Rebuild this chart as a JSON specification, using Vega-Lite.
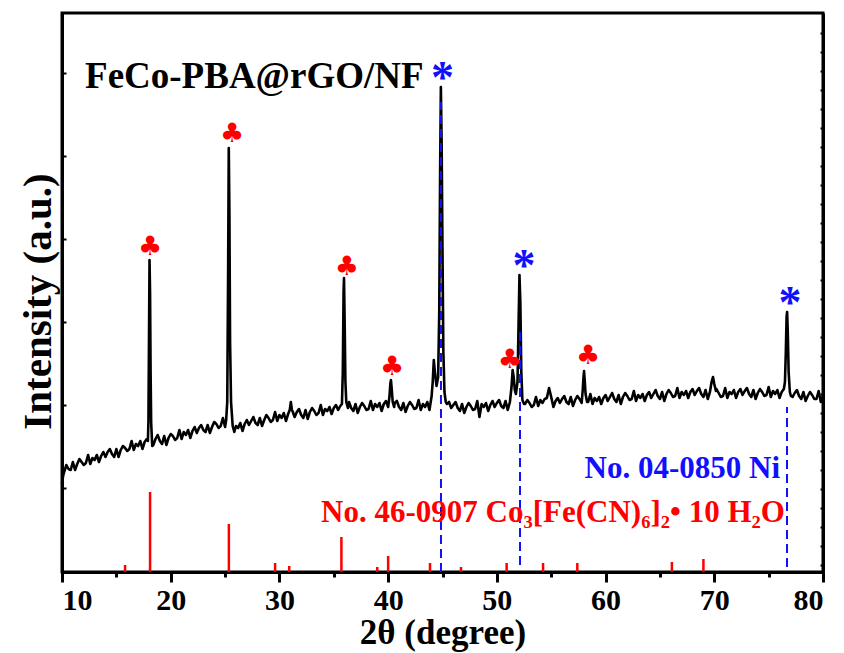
{
  "$schema": "https://vega.github.io/schema/vega-lite/v6.json",
  "width": 761,
  "height": 559,
  "autosize": {"type": "none"},
  "padding": {"left": 62, "top": 13, "right": 21, "bottom": 81},
  "background": "white",
  "config": {
    "view": {"stroke": "black", "strokeWidth": 3},
    "font": "Liberation Serif",
    "axis": {"domainColor": "black", "domainWidth": 3, "tickColor": "black", "grid": false, "labelFont": "Liberation Serif", "titleFont": "Liberation Serif", "labelFontWeight": "bold", "titleFontWeight": "bold", "labelColor": "black", "titleColor": "black"}
  },
  "datasets": {
    "pattern": [
      {"x":10.0,"y":88},{"x":10.1,"y":96},{"x":10.2,"y":100},{"x":10.4,"y":107},{"x":10.6,"y":103},{"x":10.8,"y":102},{"x":11.0,"y":110},{"x":11.2,"y":102},{"x":11.4,"y":108},{"x":11.6,"y":113},{"x":11.8,"y":110},{"x":12.0,"y":107},{"x":12.2,"y":109},{"x":12.4,"y":117},{"x":12.6,"y":108},{"x":12.8,"y":114},{"x":13.0,"y":112},{"x":13.2,"y":117},{"x":13.4,"y":110},{"x":13.6,"y":116},{"x":13.8,"y":120},{"x":14.0,"y":115},{"x":14.2,"y":120},{"x":14.4,"y":123},{"x":14.6,"y":118},{"x":14.8,"y":115},{"x":15.0,"y":123},{"x":15.2,"y":115},{"x":15.4,"y":122},{"x":15.6,"y":126},{"x":15.8,"y":124},{"x":16.0,"y":121},{"x":16.2,"y":123},{"x":16.4,"y":131},{"x":16.6,"y":122},{"x":16.8,"y":128},{"x":17.0,"y":126},{"x":17.2,"y":131},{"x":17.4,"y":123},{"x":17.6,"y":130},{"x":17.8,"y":133},{"x":17.9,"y":131},{"x":17.95,"y":150},{"x":18.0,"y":230},{"x":18.05,"y":312},{"x":18.1,"y":280},{"x":18.15,"y":200},{"x":18.2,"y":150},{"x":18.3,"y":126},{"x":18.4,"y":127},{"x":18.6,"y":133},{"x":18.8,"y":137},{"x":19.0,"y":131},{"x":19.2,"y":128},{"x":19.4,"y":136},{"x":19.6,"y":127},{"x":19.8,"y":134},{"x":20.0,"y":138},{"x":20.2,"y":136},{"x":20.4,"y":132},{"x":20.6,"y":134},{"x":20.8,"y":142},{"x":21.0,"y":133},{"x":21.2,"y":140},{"x":21.4,"y":137},{"x":21.6,"y":142},{"x":21.8,"y":134},{"x":22.0,"y":141},{"x":22.2,"y":145},{"x":22.4,"y":139},{"x":22.6,"y":144},{"x":22.8,"y":147},{"x":23.0,"y":142},{"x":23.2,"y":140},{"x":23.4,"y":147},{"x":23.6,"y":139},{"x":23.8,"y":145},{"x":24.0,"y":150},{"x":24.2,"y":148},{"x":24.4,"y":144},{"x":24.6,"y":146},{"x":24.8,"y":154},{"x":25.0,"y":145},{"x":25.1,"y":152},{"x":25.2,"y":170},{"x":25.28,"y":300},{"x":25.34,"y":424},{"x":25.4,"y":360},{"x":25.46,"y":230},{"x":25.55,"y":170},{"x":25.7,"y":146},{"x":25.85,"y":140},{"x":26.0,"y":146},{"x":26.2,"y":144},{"x":26.4,"y":149},{"x":26.6,"y":141},{"x":26.8,"y":148},{"x":27.0,"y":152},{"x":27.2,"y":147},{"x":27.4,"y":151},{"x":27.6,"y":155},{"x":27.8,"y":149},{"x":28.0,"y":147},{"x":28.2,"y":154},{"x":28.4,"y":146},{"x":28.6,"y":152},{"x":28.8,"y":157},{"x":29.0,"y":154},{"x":29.2,"y":150},{"x":29.4,"y":152},{"x":29.6,"y":160},{"x":29.8,"y":151},{"x":30.0,"y":157},{"x":30.2,"y":154},{"x":30.4,"y":159},{"x":30.6,"y":151},{"x":30.8,"y":158},{"x":30.95,"y":162},{"x":31.05,"y":170},{"x":31.15,"y":162},{"x":31.2,"y":161},{"x":31.4,"y":155},{"x":31.6,"y":160},{"x":31.8,"y":163},{"x":32.0,"y":157},{"x":32.2,"y":154},{"x":32.4,"y":162},{"x":32.6,"y":153},{"x":32.8,"y":160},{"x":33.0,"y":164},{"x":33.2,"y":161},{"x":33.4,"y":157},{"x":33.6,"y":159},{"x":33.8,"y":167},{"x":34.0,"y":157},{"x":34.2,"y":163},{"x":34.4,"y":161},{"x":34.6,"y":165},{"x":34.8,"y":158},{"x":35.0,"y":164},{"x":35.2,"y":167},{"x":35.4,"y":162},{"x":35.6,"y":166},{"x":35.75,"y":168},{"x":35.83,"y":200},{"x":35.9,"y":280},{"x":35.94,"y":294},{"x":36.0,"y":250},{"x":36.07,"y":190},{"x":36.15,"y":170},{"x":36.3,"y":164},{"x":36.4,"y":170},{"x":36.6,"y":164},{"x":36.8,"y":161},{"x":37.0,"y":168},{"x":37.2,"y":159},{"x":37.4,"y":165},{"x":37.6,"y":169},{"x":37.8,"y":166},{"x":38.0,"y":162},{"x":38.2,"y":163},{"x":38.4,"y":171},{"x":38.6,"y":162},{"x":38.8,"y":168},{"x":39.0,"y":165},{"x":39.2,"y":169},{"x":39.4,"y":161},{"x":39.6,"y":168},{"x":39.8,"y":171},{"x":40.0,"y":165},{"x":40.12,"y":175},{"x":40.2,"y":188},{"x":40.26,"y":192},{"x":40.33,"y":183},{"x":40.42,"y":170},{"x":40.55,"y":165},{"x":40.6,"y":169},{"x":40.8,"y":171},{"x":41.0,"y":165},{"x":41.2,"y":162},{"x":41.4,"y":169},{"x":41.6,"y":160},{"x":41.8,"y":166},{"x":42.0,"y":170},{"x":42.2,"y":167},{"x":42.4,"y":163},{"x":42.6,"y":164},{"x":42.8,"y":172},{"x":43.0,"y":162},{"x":43.2,"y":168},{"x":43.4,"y":165},{"x":43.6,"y":170},{"x":43.8,"y":162},{"x":44.0,"y":176},{"x":44.1,"y":190},{"x":44.2,"y":212},{"x":44.3,"y":200},{"x":44.45,"y":186},{"x":44.6,"y":195},{"x":44.7,"y":260},{"x":44.78,"y":400},{"x":44.85,"y":485},{"x":44.92,"y":430},{"x":45.0,"y":320},{"x":45.08,"y":220},{"x":45.18,"y":180},{"x":45.3,"y":170},{"x":45.4,"y":168},{"x":45.6,"y":170},{"x":45.8,"y":164},{"x":46.0,"y":167},{"x":46.2,"y":170},{"x":46.4,"y":164},{"x":46.6,"y":161},{"x":46.8,"y":168},{"x":47.0,"y":159},{"x":47.2,"y":165},{"x":47.4,"y":169},{"x":47.6,"y":166},{"x":47.8,"y":162},{"x":48.0,"y":163},{"x":48.2,"y":171},{"x":48.4,"y":155},{"x":48.6,"y":168},{"x":48.8,"y":165},{"x":49.0,"y":169},{"x":49.2,"y":161},{"x":49.4,"y":167},{"x":49.6,"y":171},{"x":49.8,"y":165},{"x":50.0,"y":169},{"x":50.2,"y":172},{"x":50.4,"y":166},{"x":50.6,"y":164},{"x":50.8,"y":171},{"x":51.0,"y":162},{"x":51.2,"y":170},{"x":51.35,"y":185},{"x":51.45,"y":202},{"x":51.55,"y":195},{"x":51.65,"y":182},{"x":51.75,"y":178},{"x":51.9,"y":190},{"x":52.0,"y":250},{"x":52.08,"y":297},{"x":52.16,"y":270},{"x":52.25,"y":200},{"x":52.35,"y":172},{"x":52.5,"y":168},{"x":52.6,"y":168},{"x":52.8,"y":172},{"x":53.0,"y":169},{"x":53.2,"y":165},{"x":53.4,"y":167},{"x":53.6,"y":175},{"x":53.8,"y":166},{"x":54.0,"y":172},{"x":54.2,"y":169},{"x":54.4,"y":173},{"x":54.6,"y":174},{"x":54.8,"y":184},{"x":55.0,"y":175},{"x":55.2,"y":165},{"x":55.4,"y":171},{"x":55.6,"y":174},{"x":55.8,"y":169},{"x":56.0,"y":173},{"x":56.2,"y":176},{"x":56.4,"y":170},{"x":56.6,"y":168},{"x":56.8,"y":175},{"x":57.0,"y":166},{"x":57.2,"y":172},{"x":57.4,"y":176},{"x":57.6,"y":173},{"x":57.8,"y":169},{"x":57.9,"y":182},{"x":57.97,"y":195},{"x":58.02,"y":201},{"x":58.08,"y":192},{"x":58.16,"y":178},{"x":58.3,"y":170},{"x":58.4,"y":170},{"x":58.6,"y":178},{"x":58.8,"y":168},{"x":59.0,"y":174},{"x":59.2,"y":171},{"x":59.4,"y":175},{"x":59.6,"y":168},{"x":59.8,"y":174},{"x":60.0,"y":177},{"x":60.2,"y":171},{"x":60.4,"y":175},{"x":60.6,"y":179},{"x":60.8,"y":173},{"x":61.0,"y":170},{"x":61.2,"y":177},{"x":61.4,"y":168},{"x":61.6,"y":175},{"x":61.8,"y":179},{"x":62.0,"y":176},{"x":62.2,"y":172},{"x":62.4,"y":173},{"x":62.6,"y":181},{"x":62.8,"y":171},{"x":63.0,"y":177},{"x":63.2,"y":174},{"x":63.4,"y":178},{"x":63.6,"y":171},{"x":63.8,"y":177},{"x":64.0,"y":180},{"x":64.2,"y":174},{"x":64.4,"y":178},{"x":64.6,"y":182},{"x":64.8,"y":176},{"x":65.0,"y":173},{"x":65.2,"y":180},{"x":65.4,"y":171},{"x":65.6,"y":178},{"x":65.8,"y":182},{"x":66.0,"y":179},{"x":66.2,"y":175},{"x":66.4,"y":176},{"x":66.6,"y":184},{"x":66.8,"y":174},{"x":67.0,"y":180},{"x":67.2,"y":177},{"x":67.4,"y":181},{"x":67.6,"y":174},{"x":67.8,"y":180},{"x":68.0,"y":183},{"x":68.2,"y":177},{"x":68.4,"y":181},{"x":68.6,"y":184},{"x":68.8,"y":178},{"x":69.0,"y":175},{"x":69.2,"y":182},{"x":69.4,"y":173},{"x":69.6,"y":180},{"x":69.75,"y":190},{"x":69.88,"y":195},{"x":70.0,"y":188},{"x":70.15,"y":181},{"x":70.2,"y":183},{"x":70.4,"y":179},{"x":70.6,"y":175},{"x":70.8,"y":176},{"x":71.0,"y":184},{"x":71.2,"y":174},{"x":71.4,"y":180},{"x":71.6,"y":178},{"x":71.8,"y":182},{"x":72.0,"y":174},{"x":72.2,"y":180},{"x":72.4,"y":183},{"x":72.6,"y":177},{"x":72.8,"y":181},{"x":73.0,"y":184},{"x":73.2,"y":178},{"x":73.4,"y":175},{"x":73.6,"y":182},{"x":73.8,"y":173},{"x":74.0,"y":179},{"x":74.2,"y":183},{"x":74.4,"y":180},{"x":74.6,"y":176},{"x":74.8,"y":177},{"x":75.0,"y":185},{"x":75.2,"y":175},{"x":75.4,"y":181},{"x":75.6,"y":178},{"x":75.8,"y":182},{"x":76.0,"y":174},{"x":76.2,"y":180},{"x":76.4,"y":183},{"x":76.5,"y":190},{"x":76.58,"y":220},{"x":76.65,"y":255},{"x":76.7,"y":260},{"x":76.76,"y":240},{"x":76.84,"y":200},{"x":76.95,"y":180},{"x":77.05,"y":176},{"x":77.2,"y":175},{"x":77.4,"y":179},{"x":77.6,"y":182},{"x":77.8,"y":176},{"x":78.0,"y":173},{"x":78.2,"y":180},{"x":78.4,"y":171},{"x":78.6,"y":176},{"x":78.8,"y":180},{"x":79.0,"y":177},{"x":79.2,"y":173},{"x":79.4,"y":173},{"x":79.6,"y":181},{"x":79.8,"y":170},{"x":80.0,"y":176}
    ],
    "sticks": [
      {"x":15.8,"h":7},{"x":18.1,"h":80},{"x":25.35,"h":48},{"x":29.6,"h":9},{"x":30.9,"h":6},{"x":35.7,"h":35},{"x":39.0,"h":5},{"x":40.0,"h":16},{"x":43.85,"h":9},{"x":46.7,"h":5},{"x":50.9,"h":9},{"x":54.25,"h":9},{"x":57.4,"h":9},{"x":66.1,"h":10},{"x":69.0,"h":13}
    ],
    "nilines": [
      {"x":44.86,"lo":0,"hi":470},{"x":52.13,"lo":7,"hi":242},{"x":76.69,"lo":5,"hi":165}
    ],
    "clubs": [
      {"x":18.1,"y":325},{"x":25.64,"y":438},{"x":36.2,"y":305},{"x":40.36,"y":205},{"x":51.2,"y":212},{"x":58.39,"y":216}
    ],
    "stars": [
      {"x":45.0,"y":493},{"x":52.5,"y":305},{"x":76.97,"y":268}
    ],
    "sample": [{"x":12.12,"y":484,"label":"FeCo-PBA@rGO/NF"}],
    "ni": [{"x":76.05,"y":94,"label":"No. 04-0850 Ni"}],
    "co": [{"x":76.5,"y":50,"label":"No. 46-0907 Co₃[Fe(CN)₆]₂• 10 H₂O"}]
  },
  "resolve": {"axis": {"y": "independent"}},
  "layer": [
    {
      "data": {"name": "pattern"},
      "mark": {"type": "line", "color": "black", "strokeWidth": 2.6, "strokeJoin": "round"},
      "encoding": {
        "x": {"field": "x", "type": "quantitative",
          "scale": {"domain": [10, 80], "nice": false, "zero": false},
          "axis": {"values": [10,15,20,25,30,35,40,45,50,55,60,65,70,75,80],
            "labelExpr": "datum.value % 10 === 0 ? datum.label : ''",
            "tickSize": {"condition": {"test": "datum.value % 10 === 0", "value": 10}, "value": 5},
            "tickWidth": 3, "labelFontSize": 30, "labelPadding": 3,
            "title": "2θ (degree)", "titleFontSize": 35, "titleY": 71, "titleBaseline": "alphabetic"}},
        "y": {"field": "y", "type": "quantitative",
          "scale": {"domain": [0, 559], "nice": false, "zero": false},
          "axis": {"orient": "left", "values": [84,167,250,333,416,499], "labels": false, "tickSize": -4, "tickWidth": 2,
            "title": "Intensity (a.u.)", "titleFontSize": 41, "titleX": -12, "titleY": 288, "titleAngle": -90, "titleAlign": "center", "titleBaseline": "alphabetic"}}
      }
    },
    {
      "data": {"name": "sticks"},
      "mark": {"type": "rule", "color": "#ff0000", "strokeWidth": 2.5},
      "encoding": {
        "x": {"field": "x", "type": "quantitative"},
        "y": {"field": "h", "type": "quantitative",
          "axis": {"orient": "right", "values": [7,26,45,64,83,102,121,140,159,178,197,216,235,254,273,292,311,330,349,368,387,406,425,444,463,482,501,520,539],
            "labels": false, "tickSize": -3, "tickWidth": 2, "title": null}},
        "y2": {"datum": 0}
      }
    },
    {
      "data": {"name": "nilines"},
      "mark": {"type": "rule", "color": "#1010ff", "strokeWidth": 2, "strokeDash": [9, 5]},
      "encoding": {
        "x": {"field": "x", "type": "quantitative"},
        "y": {"field": "lo", "type": "quantitative", "axis": null},
        "y2": {"field": "hi"}
      }
    },
    {
      "data": {"name": "clubs"},
      "mark": {"type": "text", "text": "♣", "color": "#ff0000", "font": "DejaVu Sans", "fontSize": 27, "baseline": "middle", "align": "center"},
      "encoding": {
        "x": {"field": "x", "type": "quantitative"},
        "y": {"field": "y", "type": "quantitative", "axis": null}
      }
    },
    {
      "data": {"name": "stars"},
      "mark": {"type": "text", "text": "*", "color": "#1010ff", "font": "Liberation Serif", "fontWeight": "bold", "fontSize": 46, "baseline": "middle", "align": "center"},
      "encoding": {
        "x": {"field": "x", "type": "quantitative"},
        "y": {"field": "y", "type": "quantitative", "axis": null}
      }
    },
    {
      "data": {"name": "sample"},
      "mark": {"type": "text", "color": "black", "font": "Liberation Serif", "fontWeight": "bold", "fontSize": 37, "baseline": "alphabetic", "align": "left"},
      "encoding": {
        "x": {"field": "x", "type": "quantitative"},
        "y": {"field": "y", "type": "quantitative", "axis": null},
        "text": {"field": "label"}
      }
    },
    {
      "data": {"name": "ni"},
      "mark": {"type": "text", "color": "#1010ff", "font": "Liberation Serif", "fontWeight": "bold", "fontSize": 31, "baseline": "alphabetic", "align": "right"},
      "encoding": {
        "x": {"field": "x", "type": "quantitative"},
        "y": {"field": "y", "type": "quantitative", "axis": null},
        "text": {"field": "label"}
      }
    },
    {
      "data": {"name": "co"},
      "mark": {"type": "text", "color": "#ff0000", "font": "Liberation Serif", "fontWeight": "bold", "fontSize": 31, "baseline": "alphabetic", "align": "right"},
      "encoding": {
        "x": {"field": "x", "type": "quantitative"},
        "y": {"field": "y", "type": "quantitative", "axis": null},
        "text": {"field": "label"}
      }
    }
  ]
}
